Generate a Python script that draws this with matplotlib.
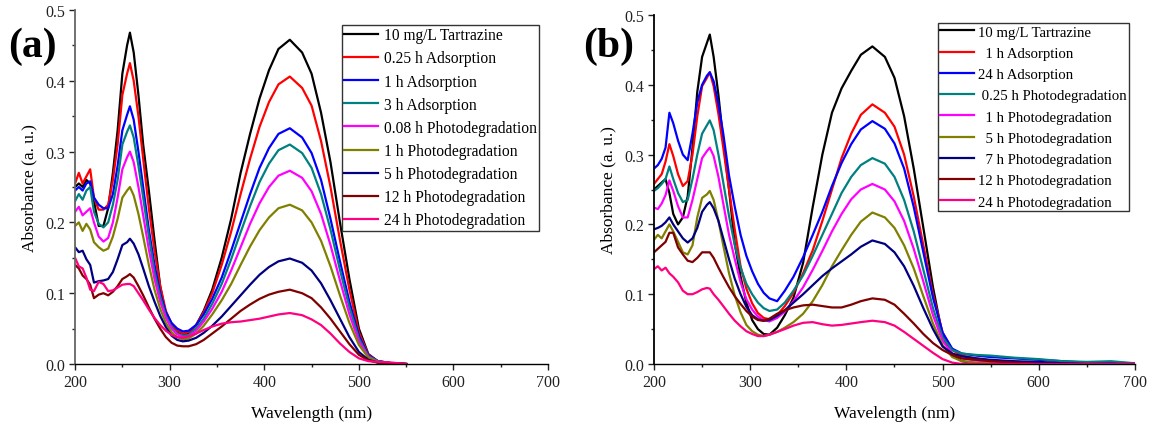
import matplotlib
matplotlib.use('Agg')
import matplotlib.pyplot as plt
from matplotlib.ticker import MultipleLocator, FormatStrFormatter

plt.rcParams['font.family'] = ['Liberation Serif', 'DejaVu Serif']

# ---- panel (a) data ----
wl_a = [200, 204, 208, 212, 216, 220, 225, 230, 235, 240, 245, 250, 255, 258, 262, 267,
        272, 278, 284, 290, 296, 302, 308, 314, 320, 328, 336, 345, 355, 365, 375, 385,
        395, 405, 415, 427, 440, 450, 460, 470, 480, 490, 500, 510, 520, 535, 550]

a_tartrazine = [0.25, 0.255, 0.25, 0.26, 0.255, 0.23, 0.195, 0.195, 0.22, 0.27, 0.33, 0.41,
                0.45, 0.468, 0.44, 0.38, 0.31, 0.245, 0.175, 0.11, 0.07, 0.052, 0.045, 0.041,
                0.043, 0.055, 0.075, 0.105, 0.15, 0.205, 0.27, 0.325, 0.375, 0.415, 0.445,
                0.458, 0.44, 0.41, 0.355, 0.285, 0.2, 0.12, 0.05, 0.014, 0.004, 0.001, 0.0]
a_ads_025 = [0.255, 0.27, 0.255, 0.265, 0.275, 0.235, 0.218, 0.218, 0.225, 0.26, 0.31, 0.38,
             0.41, 0.425, 0.40, 0.35, 0.29, 0.22, 0.16, 0.11, 0.075, 0.057, 0.047, 0.043,
             0.045, 0.055, 0.073, 0.1, 0.14, 0.187, 0.24, 0.29, 0.335, 0.37, 0.395, 0.406,
             0.39, 0.365, 0.315, 0.25, 0.175, 0.105, 0.045, 0.013, 0.004, 0.001, 0.0]
a_ads_1 = [0.245, 0.25, 0.245, 0.255, 0.258, 0.235, 0.225, 0.22, 0.22, 0.24, 0.28, 0.33,
           0.352, 0.364, 0.345, 0.30, 0.25, 0.19, 0.14, 0.1, 0.073, 0.058, 0.05, 0.046,
           0.047, 0.055, 0.07, 0.092, 0.122, 0.16, 0.2, 0.24, 0.277, 0.305, 0.325, 0.333,
           0.32, 0.298, 0.26, 0.205, 0.145, 0.088, 0.04, 0.012, 0.004, 0.001, 0.0]
a_ads_3 = [0.23, 0.24, 0.232, 0.245, 0.25, 0.215, 0.198, 0.193, 0.2, 0.225, 0.26, 0.31,
           0.328, 0.337, 0.32, 0.28, 0.235, 0.18, 0.13, 0.095, 0.068, 0.052, 0.043, 0.04,
           0.041, 0.05, 0.064, 0.085, 0.113, 0.148, 0.186, 0.223, 0.257, 0.283, 0.302, 0.31,
           0.298, 0.277, 0.24, 0.19, 0.133, 0.08, 0.036, 0.011, 0.004, 0.001, 0.0]
a_pd_008 = [0.215, 0.222, 0.21, 0.215, 0.22, 0.2, 0.18, 0.173, 0.178, 0.2, 0.235, 0.275,
            0.292, 0.3, 0.285, 0.25, 0.21, 0.162, 0.12, 0.088, 0.065, 0.05, 0.042, 0.038,
            0.039, 0.047, 0.06, 0.078, 0.102, 0.132, 0.165, 0.198, 0.227, 0.25, 0.266, 0.273,
            0.263, 0.244, 0.212, 0.168, 0.118, 0.07, 0.032, 0.01, 0.003, 0.001, 0.0]
a_pd_1 = [0.195, 0.2, 0.188, 0.198, 0.19, 0.172, 0.165, 0.16, 0.163, 0.18, 0.205, 0.235,
          0.245, 0.25, 0.238, 0.212, 0.18, 0.14, 0.105, 0.078, 0.058, 0.045, 0.038, 0.035,
          0.036, 0.043, 0.054, 0.07, 0.09, 0.113, 0.14, 0.166, 0.189, 0.207, 0.22, 0.225,
          0.217, 0.2, 0.174, 0.138, 0.097, 0.058, 0.027, 0.009, 0.003, 0.001, 0.0]
a_pd_5 = [0.165, 0.158, 0.16, 0.148, 0.14, 0.115, 0.117, 0.118, 0.12, 0.13, 0.148, 0.168,
          0.172, 0.177, 0.17, 0.155, 0.135, 0.11, 0.088, 0.068, 0.052, 0.04, 0.034, 0.032,
          0.033, 0.037, 0.044, 0.054, 0.067, 0.082, 0.097, 0.112, 0.126, 0.137, 0.145, 0.149,
          0.143, 0.132, 0.114, 0.09, 0.064, 0.038, 0.017, 0.006, 0.002, 0.001, 0.0]
a_pd_12 = [0.14, 0.135, 0.125, 0.12, 0.112, 0.093, 0.098, 0.1, 0.097, 0.102, 0.11, 0.12,
           0.124, 0.127, 0.122, 0.11, 0.097, 0.08, 0.064, 0.05, 0.038, 0.03, 0.026, 0.025,
           0.025, 0.028, 0.034, 0.043, 0.053, 0.064, 0.075, 0.084, 0.092, 0.098, 0.102, 0.105,
           0.1, 0.093, 0.08, 0.064, 0.046, 0.028, 0.013, 0.005, 0.002, 0.001, 0.0]
a_pd_24 = [0.15, 0.138, 0.135, 0.122, 0.105, 0.103, 0.116, 0.113, 0.103, 0.104, 0.108, 0.112,
           0.113, 0.113, 0.11, 0.1, 0.09, 0.077, 0.065, 0.055, 0.047, 0.041, 0.038, 0.037,
           0.039, 0.043, 0.048, 0.053, 0.057, 0.059, 0.06, 0.062, 0.064, 0.067, 0.07, 0.072,
           0.069, 0.063, 0.055, 0.043, 0.029, 0.017, 0.008, 0.004, 0.003, 0.002, 0.0]

labels_a = ['10 mg/L Tartrazine', '0.25 h Adsorption', '1 h Adsorption', '3 h Adsorption',
            '0.08 h Photodegradation', '1 h Photodegradation', '5 h Photodegradation',
            '12 h Photodegradation', '24 h Photodegradation']

# ---- panel (b) data ----
wl_b = [200, 204, 208, 212, 216, 220, 225, 230, 235, 240, 245, 250, 255, 258, 262, 267,
        272, 278, 284, 290, 296, 302, 308, 314, 320, 328, 336, 345, 355, 365, 375, 385,
        395, 405, 415, 427, 440, 450, 460, 470, 480, 490, 500, 510, 520, 535, 550, 575,
        600, 625, 650, 675, 700]

b_tartrazine = [0.25, 0.255, 0.26, 0.265, 0.245, 0.215, 0.2, 0.21, 0.24, 0.31, 0.39, 0.44,
                0.46, 0.472, 0.44, 0.385, 0.32, 0.25, 0.172, 0.125, 0.088, 0.063, 0.05, 0.043,
                0.042, 0.052, 0.07, 0.095, 0.145, 0.225, 0.3, 0.36, 0.395, 0.42, 0.443, 0.455,
                0.44, 0.41, 0.355, 0.28, 0.195, 0.11, 0.04, 0.012, 0.004, 0.001, 0.0, 0.0,
                0.0, 0.0, 0.0, 0.0, 0.0]
b_ads_1 = [0.258, 0.265, 0.272, 0.29, 0.315, 0.298, 0.272, 0.255, 0.262, 0.3, 0.355, 0.398,
           0.41, 0.418, 0.398, 0.358, 0.31, 0.25, 0.192, 0.14, 0.108, 0.087, 0.073, 0.066,
           0.064, 0.07, 0.083, 0.102, 0.13, 0.163, 0.205, 0.25, 0.295, 0.33, 0.357, 0.372,
           0.36, 0.34, 0.3, 0.24, 0.17, 0.1, 0.045, 0.02, 0.012, 0.008, 0.005, 0.003,
           0.002, 0.001, 0.001, 0.0, 0.0]
b_ads_24 = [0.28, 0.285, 0.294, 0.31, 0.36, 0.345, 0.32, 0.3, 0.292, 0.33, 0.375, 0.4,
            0.413, 0.418, 0.405, 0.372, 0.33, 0.27, 0.225, 0.185, 0.155, 0.133, 0.115, 0.102,
            0.094, 0.09, 0.105, 0.125, 0.153, 0.185, 0.218, 0.255, 0.288, 0.315, 0.336, 0.348,
            0.337, 0.316, 0.28, 0.225, 0.16, 0.095, 0.045, 0.022, 0.015, 0.012, 0.01, 0.008,
            0.006, 0.004, 0.002, 0.002, 0.001]
b_pd_025 = [0.248, 0.252, 0.258, 0.265, 0.283, 0.265, 0.245, 0.232, 0.235, 0.265, 0.3, 0.33,
            0.342, 0.349, 0.335, 0.3, 0.26, 0.212, 0.17, 0.138, 0.115, 0.1, 0.088, 0.08,
            0.076, 0.078, 0.088, 0.105, 0.127, 0.155, 0.185, 0.215, 0.245, 0.268, 0.285, 0.295,
            0.287, 0.268, 0.235, 0.19, 0.135, 0.08, 0.038, 0.02, 0.015, 0.013, 0.012, 0.009,
            0.007, 0.004, 0.003, 0.004, 0.001]
b_pd_1 = [0.224, 0.222, 0.23, 0.242, 0.263, 0.248, 0.226, 0.21, 0.21, 0.235, 0.265, 0.295,
          0.305, 0.31, 0.298, 0.268, 0.23, 0.185, 0.15, 0.117, 0.093, 0.078, 0.068, 0.063,
          0.061, 0.066, 0.075, 0.09, 0.11, 0.135, 0.162, 0.19, 0.215, 0.236, 0.25, 0.258,
          0.25, 0.233, 0.205, 0.165, 0.118, 0.07, 0.033, 0.015, 0.008, 0.005, 0.003, 0.002,
          0.001, 0.0, 0.0, 0.0, 0.0]
b_pd_5 = [0.178, 0.185, 0.18, 0.19, 0.2, 0.19, 0.175, 0.16, 0.157, 0.17, 0.21, 0.238,
          0.243, 0.248, 0.235, 0.205, 0.17, 0.13, 0.098, 0.074, 0.056, 0.047, 0.042, 0.04,
          0.042, 0.046, 0.052, 0.06, 0.072, 0.09, 0.113, 0.14, 0.163, 0.185, 0.204, 0.217,
          0.21, 0.195, 0.17, 0.137, 0.097, 0.058, 0.027, 0.01, 0.004, 0.002, 0.001, 0.0,
          0.0, 0.0, 0.0, 0.0, 0.0]
b_pd_7 = [0.193, 0.195, 0.198, 0.203, 0.21, 0.2, 0.19, 0.18, 0.174, 0.18, 0.195, 0.218,
          0.228, 0.232, 0.223, 0.205, 0.18, 0.15, 0.122, 0.1, 0.082, 0.07, 0.064, 0.062,
          0.063, 0.069, 0.077, 0.088, 0.1, 0.113, 0.126, 0.137, 0.147, 0.157, 0.168, 0.177,
          0.172, 0.16, 0.14, 0.112, 0.08, 0.05, 0.025, 0.015, 0.011, 0.008, 0.006, 0.004,
          0.003, 0.001, 0.0, 0.0, 0.0]
b_pd_12 = [0.16, 0.165, 0.17, 0.175, 0.188, 0.188, 0.167, 0.157, 0.148, 0.146, 0.152, 0.16,
           0.16, 0.16, 0.152, 0.138, 0.125, 0.11, 0.097, 0.086, 0.076, 0.068, 0.063, 0.062,
           0.065, 0.072, 0.077, 0.081, 0.084, 0.085, 0.083, 0.081, 0.081, 0.085, 0.09, 0.094,
           0.092, 0.085, 0.072, 0.058, 0.043, 0.03, 0.02, 0.013, 0.008, 0.006, 0.004, 0.002,
           0.0, 0.0, 0.0, 0.0, 0.0]
b_pd_24 = [0.136, 0.14, 0.134, 0.138, 0.13, 0.125, 0.117, 0.105, 0.1, 0.1, 0.103, 0.107,
           0.109, 0.108, 0.1, 0.092, 0.083, 0.072, 0.062, 0.054, 0.047, 0.043, 0.04, 0.04,
           0.042, 0.046, 0.05, 0.055, 0.059, 0.06, 0.057, 0.055, 0.056, 0.058, 0.06, 0.062,
           0.06, 0.055, 0.046, 0.036, 0.026, 0.016, 0.007, 0.002, 0.0, 0.0, 0.0, 0.0,
           0.0, 0.0, 0.0, 0.0, 0.0]

labels_b = ['10 mg/L Tartrazine', '  1 h Adsorption', '24 h Adsorption',
            ' 0.25 h Photodegradation', '  1 h Photodegradation', '  5 h Photodegradation',
            '  7 h Photodegradation', '12 h Photodegradation', '24 h Photodegradation']

# Origin default colour cycle
colors = ['#000000', '#FF0000', '#0000FF', '#008080', '#FF00FF',
          '#808000', '#000080', '#800000', '#FF0080']


def style_axes(ax, left_color):
    ax.set_xlim(200, 700)
    ax.set_ylim(0, 0.5)
    ax.xaxis.set_major_locator(MultipleLocator(100))
    ax.xaxis.set_minor_locator(MultipleLocator(50))
    ax.yaxis.set_major_locator(MultipleLocator(0.1))
    ax.yaxis.set_minor_locator(MultipleLocator(0.05))
    ax.yaxis.set_major_formatter(FormatStrFormatter('%.1f'))
    ax.spines['top'].set_visible(False)
    ax.spines['right'].set_visible(False)
    ax.spines['left'].set_color(left_color)
    ax.spines['left'].set_linewidth(1.3)
    ax.spines['bottom'].set_linewidth(1.0)
    ax.tick_params(which='major', direction='out', length=4, width=1, labelsize=11.5,
                   pad=3, colors='#222222')
    ax.tick_params(which='minor', direction='out', length=2.5, width=1, colors='#222222')
    ax.set_xlabel('Wavelength (nm)', fontsize=12.5, labelpad=11)
    ax.set_ylabel('Absorbance (a. u.)', fontsize=12.5, labelpad=6)


fig = plt.figure(figsize=(11.51, 4.27), dpi=100)

ax1 = fig.add_axes([0.0652, 0.1452, 0.411, 0.829])
series_a = [a_tartrazine, a_ads_025, a_ads_1, a_ads_3, a_pd_008, a_pd_1, a_pd_5, a_pd_12, a_pd_24]
for vals, lab, c in zip(series_a, labels_a, colors):
    ax1.plot(wl_a, vals, color=c, lw=1.6, label=lab)
style_axes(ax1, '#666666')
ax1.legend(loc='upper right', bbox_to_anchor=(0.981, 0.958), fontsize=11.2, frameon=True,
           fancybox=False, edgecolor='#333333', framealpha=1, borderpad=0.15,
           labelspacing=0.46, handlelength=2.2, handletextpad=0.35, borderaxespad=0)
fig.text(0.007, 0.89, '(a)', fontsize=30, fontweight='bold', va='center', ha='left')

ax2 = fig.add_axes([0.5682, 0.1452, 0.4179, 0.8173])
series_b = [b_tartrazine, b_ads_1, b_ads_24, b_pd_025, b_pd_1, b_pd_5, b_pd_7, b_pd_12, b_pd_24]
for vals, lab, c in zip(series_b, labels_b, colors):
    ax2.plot(wl_b, vals, color=c, lw=1.6, label=lab)
style_axes(ax2, '#000000')
ax2.legend(loc='upper right', bbox_to_anchor=(0.9875, 0.977), fontsize=10.6, frameon=True,
           fancybox=False, edgecolor='#333333', framealpha=1, borderpad=0.15,
           labelspacing=0.54, handlelength=2.3, handletextpad=0.3, borderaxespad=0)
fig.text(0.5065, 0.89, '(b)', fontsize=30, fontweight='bold', va='center', ha='left')

fig.savefig('out.png', dpi=100)
